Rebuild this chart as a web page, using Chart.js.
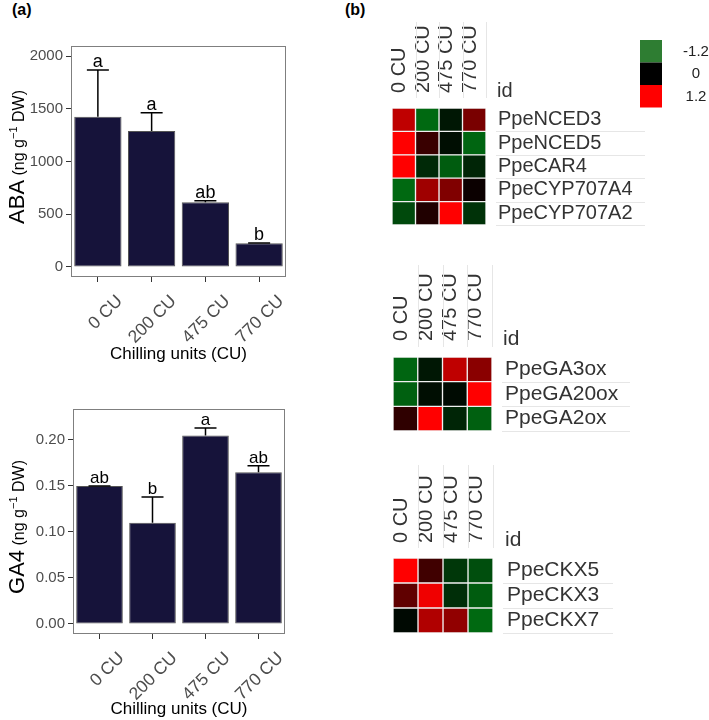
<!DOCTYPE html>
<html>
<head>
<meta charset="utf-8">
<script src="https://cdn.jsdelivr.net/npm/chart.js@4"></script>
<style>
  body { margin: 0; background: #fff; }
  #wrap { position: relative; width: 709px; height: 720px; }
  canvas { position: absolute; }
  .tag { position: absolute; top: 2px; font: bold 16px "Liberation Sans", Arial, sans-serif; line-height: 16px; color: #000; }
</style>
</head>
<body>
<div id="wrap">
  <div class="tag" style="left:12px">(a)</div>
  <div class="tag" style="left:345px">(b)</div>
  <canvas id="aba" width="355" height="365" style="left:0;top:0"></canvas>
  <canvas id="ga4" width="355" height="355" style="left:0;top:365px"></canvas>
  <canvas id="heatAba" width="349" height="240" style="left:360px;top:0"></canvas>
  <canvas id="heatGa" width="349" height="200" style="left:360px;top:240px"></canvas>
  <canvas id="heatCkx" width="349" height="200" style="left:360px;top:440px"></canvas>
</div>
<script>
// data
const cuLabels = ["0 CU", "200 CU", "475 CU", "770 CU"];

const abaMean = [1425, 1289, 613, 225];
const abaUpper = [1867, 1463, 628, 228]; // mean + error
const abaLetters = ["a", "a", "ab", "b"];
const abaTicks = [0, 500, 1000, 1500, 2000];

const ga4Mean = [0.150, 0.110, 0.205, 0.165];
const ga4Upper = [0.150, 0.138, 0.213, 0.172];
const ga4Letters = ["ab", "b", "a", "ab"];
const ga4Ticks = [0, 0.05, 0.10, 0.15, 0.20];

// heatmap rows: one value per CU column
const abaGenes = ["PpeNCED3", "PpeNCED5", "PpeCAR4", "PpeCYP707A4", "PpeCYP707A2"];
const nced3 = [0.9, -1.15, -0.25, 0.57];
const nced5 = [1.2, 0.27, -0.15, -1.1];
const car4 = [1.2, -0.45, -1.0, -0.4];
const cyp707a4 = [-1.15, 0.75, 0.6, 0.05];
const cyp707a2 = [-0.8, 0.15, 1.2, -0.55];

const gaGenes = ["PpeGA3ox", "PpeGA20ox", "PpeGA2ox"];
const ga3ox = [-1.1, -0.25, 0.9, 0.65];
const ga20ox = [-1.05, -0.15, -0.12, 1.2];
const ga2ox = [0.22, 1.2, -0.4, -1.05];

const ckxGenes = ["PpeCKX5", "PpeCKX3", "PpeCKX7"];
const ckx5 = [1.2, 0.3, -0.6, -0.85];
const ckx3 = [0.45, 1.13, -0.5, -1.0];
const ckx7 = [-0.1, 0.83, 0.68, -1.15];

const legendValues = [-1.2, 0, 1.2];

// styles
const FONT = '"Liberation Sans", Arial, sans-serif';
Chart.defaults.font.family = FONT;
Chart.defaults.devicePixelRatio = 1;
const barFill = "#16133a";
const legendColors = ["#2e7d32", "#000000", "#ff0000"];

function heatColor(v) {
  const t = Math.min(1, Math.abs(v) / 1.2);
  if (v >= 0) return `rgb(${Math.round(255 * t)},0,0)`;
  return `rgb(0,${Math.round(110 * t)},${Math.round(18 * t)})`;
}

// panel border + error bars + letters + y title
function barPlugins(upper, letters, letterSize, title, titleY) {
  return [{
    id: "panelBox",
    afterDraw(chart) {
      const { ctx, chartArea: a } = chart;
      ctx.save();
      ctx.strokeStyle = "#7f7f7f";
      ctx.lineWidth = 1;
      ctx.strokeRect(a.left + 0.5, a.top + 0.5, a.right - a.left - 1, a.bottom - a.top - 1);
      ctx.restore();
    }
  }, {
    id: "errBars",
    afterDatasetsDraw(chart) {
      const { ctx } = chart;
      const y = chart.scales.y;
      const meta = chart.getDatasetMeta(0);
      ctx.save();
      ctx.strokeStyle = "#000";
      ctx.lineWidth = 1.5;
      meta.data.forEach((bar, i) => {
        const yTop = y.getPixelForValue(upper[i]);
        ctx.beginPath();
        ctx.moveTo(bar.x, bar.y);
        ctx.lineTo(bar.x, yTop);
        ctx.moveTo(bar.x - 11, yTop);
        ctx.lineTo(bar.x + 11, yTop);
        ctx.stroke();
        ctx.fillStyle = "#000";
        ctx.font = letterSize + "px " + FONT;
        ctx.textAlign = "center";
        ctx.textBaseline = "alphabetic";
        ctx.fillText(letters[i], bar.x, yTop - 3);
      });
      ctx.restore();
    }
  }, {
    id: "yTitle",
    afterDraw(chart) {
      const { ctx } = chart;
      const parts = [
        { t: title, size: 22, dy: 0 },
        { t: " (ng g", size: 16, dy: 0 },
        { t: "\u22121", size: 11, dy: -7 },
        { t: " DW)", size: 16, dy: 0 }
      ];
      ctx.save();
      let total = 0;
      parts.forEach(p => { ctx.font = p.size + "px " + FONT; p.w = ctx.measureText(p.t).width; total += p.w; });
      ctx.translate(24, titleY);
      ctx.rotate(-Math.PI / 2);
      ctx.fillStyle = "#000";
      ctx.textBaseline = "alphabetic";
      let x = -total / 2;
      parts.forEach(p => {
        ctx.font = p.size + "px " + FONT;
        ctx.fillText(p.t, x, p.dy);
        x += p.w;
      });
      ctx.restore();
    }
  }];
}

function barChart(id, means, upper, letters, ticks, lim, box, fmt, letterSize, title, titleY) {
  return new Chart(document.getElementById(id), {
    type: "bar",
    data: {
      labels: cuLabels,
      datasets: [{
        data: means,
        backgroundColor: barFill,
        borderColor: "#555",
        borderWidth: 1,
        borderSkipped: false,
        barPercentage: 0.88,
        categoryPercentage: 1
      }]
    },
    options: {
      responsive: false,
      animation: false,
      layout: { padding: { top: box.top, right: box.right, left: 0, bottom: 0 } },
      plugins: { legend: { display: false }, tooltip: { enabled: false } },
      scales: {
        x: {
          grid: { offset: false, drawOnChartArea: false, drawTicks: true, tickLength: 5, color: "#333" },
          border: { display: false },
          ticks: { minRotation: 45, maxRotation: 45, color: "#4d4d4d", font: { size: 17.5 }, padding: 9, labelOffset: 22 },
          title: { display: true, text: "Chilling units (CU)", color: "#000", font: { size: 17 }, padding: { bottom: box.titlePad } },
          afterFit: s => { s.height = box.axisH; }
        },
        y: {
          min: lim[0], max: lim[1],
          afterBuildTicks: s => { s.ticks = ticks.map(v => ({ value: v })); },
          grid: { drawOnChartArea: false, drawTicks: true, tickLength: 5, color: "#333" },
          border: { display: false },
          ticks: { color: "#4d4d4d", font: { size: 15 }, padding: 3, callback: fmt },
          afterFit: s => { s.width = box.axisW; }
        }
      }
    },
    plugins: barPlugins(upper, letters, letterSize, title, titleY)
  });
}

barChart("aba", abaMean, abaUpper, abaLetters, abaTicks, [-95, 2095],
  { top: 46, right: 69, axisW: 71, axisH: 88, titlePad: 0 }, v => String(v), 18, "ABA", 157);
barChart("ga4", ga4Mean, ga4Upper, ga4Letters, ga4Ticks, [-0.0109, 0.2337],
  { top: 44, right: 70, axisW: 73, axisH: 86, titlePad: 0 }, v => v.toFixed(2), 17, "GA4", 162);

// heatmaps
function heatChart(id, genes, rows, o) {
  const datasets = cuLabels.map((c, j) => ({
    label: c,
    data: genes.map(() => [j, j + 1]),
    backgroundColor: rows.map(r => heatColor(r[j])),
    borderColor: "#f0f0f0",
    borderWidth: 1,
    borderSkipped: false,
    barPercentage: 1,
    categoryPercentage: 1,
    grouped: false
  }));
  const extras = {
    id: "heatExtras",
    beforeDatasetsDraw(chart) {
      const { ctx, chartArea: a } = chart;
      const x = chart.scales.x;
      ctx.save();
      ctx.strokeStyle = "#e6e6e6";
      ctx.lineWidth = 1;
      // row lines under gene labels
      const rowH = (a.bottom - a.top) / genes.length;
      for (let i = 1; i <= genes.length; i++) {
        const yy = Math.round(a.top + i * rowH) + 0.5;
        ctx.beginPath(); ctx.moveTo(a.right + 10, yy); ctx.lineTo(o.lineEnd, yy); ctx.stroke();
      }
      // column lines between labels
      for (let j = 1; j <= cuLabels.length; j++) {
        const xx = Math.round(x.getPixelForValue(j)) + 0.5;
        ctx.beginPath(); ctx.moveTo(xx, o.colLineTop); ctx.lineTo(xx, a.top - 10); ctx.stroke();
      }
      ctx.fillStyle = "#333";
      ctx.font = o.font + "px " + FONT;
      ctx.textBaseline = "alphabetic";
      ctx.fillText("id", a.right + o.idDx, a.top - o.idDy);
      if (o.legend) {
        legendValues.forEach((v, k) => {
          ctx.fillStyle = legendColors[k];
          ctx.fillRect(280, 40 + k * 22.5, 22, 22.5);
          ctx.fillStyle = "#222";
          ctx.font = "15px " + FONT;
          ctx.textAlign = "center";
          ctx.textBaseline = "middle";
          ctx.fillText(v === 0 ? "0" : (v > 0 ? "1.2" : "-1.2"), 336, 40 + k * 22.5 + 11.5);
        });
      }
      ctx.restore();
    }
  };
  return new Chart(document.getElementById(id), {
    type: "bar",
    data: { labels: genes, datasets },
    options: {
      indexAxis: "y",
      responsive: false,
      animation: false,
      layout: { padding: { left: o.left, top: 0, right: 0, bottom: o.bottom } },
      plugins: { legend: { display: false }, tooltip: { enabled: false } },
      scales: {
        x: {
          type: "linear", position: "top", min: 0, max: 4,
          grid: { display: false, drawTicks: false }, border: { display: false },
          afterBuildTicks: s => { s.ticks = cuLabels.map((c, i) => ({ value: i + 0.5 })); },
          ticks: { autoSkip: false, minRotation: 90, maxRotation: 90, padding: o.colPad, labelOffset: 20,
                   color: "#333", font: { size: 20 }, callback: (v, i) => cuLabels[i] },
          afterFit: s => { s.height = o.top; s.paddingLeft = 0; s.paddingRight = 0; }
        },
        y: {
          position: "right",
          grid: { display: false, drawTicks: false }, border: { display: false },
          ticks: { autoSkip: false, padding: o.labelPad, color: "#333", font: { size: o.font } },
          afterFit: s => { s.width = o.axisW; s.paddingTop = 0; s.paddingBottom = 0; }
        }
      }
    },
    plugins: [extras]
  });
}

heatChart("heatAba", abaGenes, [nced3, nced5, car4, cyp707a4, cyp707a2],
  { left: 32, top: 108, bottom: 15, axisW: 223, font: 20, labelPad: 12, colPad: 15, lineEnd: 285, colLineTop: 22, idDx: 11, idDy: 11, legend: true });
heatChart("heatGa", gaGenes, [ga3ox, ga20ox, ga2ox],
  { left: 33, top: 117, bottom: 9, axisW: 217, font: 21, labelPad: 13, colPad: 16, lineEnd: 270, colLineTop: 25, idDx: 11, idDy: 12 });
heatChart("heatCkx", ckxGenes, [ckx5, ckx3, ckx7],
  { left: 33, top: 118, bottom: 7, axisW: 216, font: 21, labelPad: 14, colPad: 15, lineEnd: 253, colLineTop: 25, idDx: 12, idDy: 12 });
</script>
</body>
</html>
